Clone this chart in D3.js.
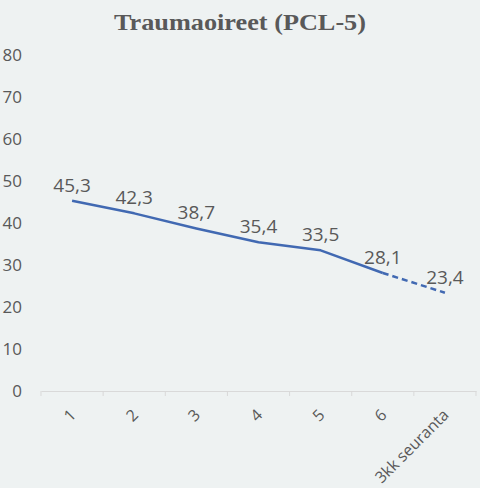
<!DOCTYPE html>
<html>
<head>
<meta charset="utf-8">
<script src="https://cdn.jsdelivr.net/npm/d3@7"></script>
<style>
  body { margin: 0; background: #eef2f2; }
  svg { display: block; }
</style>
</head>
<body>
<svg id="chart" width="480" height="488"></svg>
<script>
/******************** data ********************/
var categories = ["1", "2", "3", "4", "5", "6", "3kk seuranta"];
var values = [45.3, 42.3, 38.7, 35.4, 33.5, 28.1, 23.4];
var yTicks = [0, 10, 20, 30, 40, 50, 60, 70, 80];

/******************** setup ********************/
var svg = d3.select("#chart");
var margin = { left: 41, right: 4, top: 55, bottom: 97 };
var width = 480, height = 488;
var textCol = "#595959";

svg.append("rect").attr("width", width).attr("height", height).attr("fill", "#eef2f2");

var x = d3.scaleBand().domain(categories).range([margin.left, width - margin.right]);
var y = d3.scaleLinear().domain([0, 80]).range([height - margin.bottom, margin.top]);

/******************** title ********************/
svg.append("text")
  .attr("x", 240).attr("y", 30)
  .attr("text-anchor", "middle")
  .attr("textLength", 252)
  .attr("lengthAdjust", "spacingAndGlyphs")
  .style("font-family", "Liberation Serif")
  .style("font-weight", "bold")
  .style("font-size", "24px")
  .style("fill", textCol)
  .text("Traumaoireet (PCL-5)");

/******************** y axis (labels only) ********************/
var yAxis = svg.append("g")
  .attr("transform", "translate(" + (margin.left - 19) + ",0)")
  .call(d3.axisLeft(y).tickValues(yTicks).tickSize(0).tickPadding(0));
yAxis.select(".domain").remove();
yAxis.selectAll("text")
  .style("font-family", "Open Sans")
  .style("font-size", "17px")
  .style("fill", textCol);

/******************** x axis ********************/
var xAxis = svg.append("g")
  .attr("transform", "translate(0," + y(0) + ")")
  .call(d3.axisBottom(x).tickSizeOuter(0).tickSize(0));
xAxis.select(".domain").attr("stroke", "#d9d9d9");
xAxis.selectAll(".tick line").remove();

// tick marks at band edges
var edges = categories.map(function (c) { return x(c); }).concat([x.range()[1]]);
xAxis.selectAll(".edge")
  .data(edges).enter().append("line")
  .attr("x1", function (d) { return d; }).attr("x2", function (d) { return d; })
  .attr("y1", 0).attr("y2", 5)
  .attr("stroke", "#d9d9d9");

xAxis.selectAll(".tick text")
  .attr("transform", "translate(1,21) rotate(-45)")
  .attr("text-anchor", "end")
  .attr("dy", "0.35em")
  .attr("y", 0)
  .attr("x", 0)
  .style("font-family", "Open Sans")
  .style("font-size", "16px")
  .style("fill", textCol);

/******************** line ********************/
var pts = categories.map(function (c, i) {
  return { cx: x(c) + x.bandwidth() / 2, cy: y(values[i]), v: values[i] };
});
var line = d3.line().x(function (d) { return d.cx; }).y(function (d) { return d.cy; });

svg.append("path")
  .datum(pts.slice(0, 6))
  .attr("d", line)
  .attr("fill", "none")
  .attr("stroke", "#4169b2")
  .attr("stroke-width", 2.5)
  .attr("stroke-linejoin", "round");

svg.append("path")
  .datum(pts.slice(5))
  .attr("d", line)
  .attr("fill", "none")
  .attr("stroke", "#4169b2")
  .attr("stroke-width", 2.5)
  .attr("stroke-dasharray", "6,4");

/******************** data labels ********************/
svg.selectAll(".lbl")
  .data(pts).enter().append("text")
  .attr("x", function (d) { return d.cx; })
  .attr("y", function (d) { return d.cy - 9; })
  .attr("text-anchor", "middle")
  .style("font-family", "Open Sans")
  .style("font-size", "19px")
  .style("fill", textCol)
  .text(function (d) { return String(d.v).replace(".", ","); });
</script>
</body>
</html>
